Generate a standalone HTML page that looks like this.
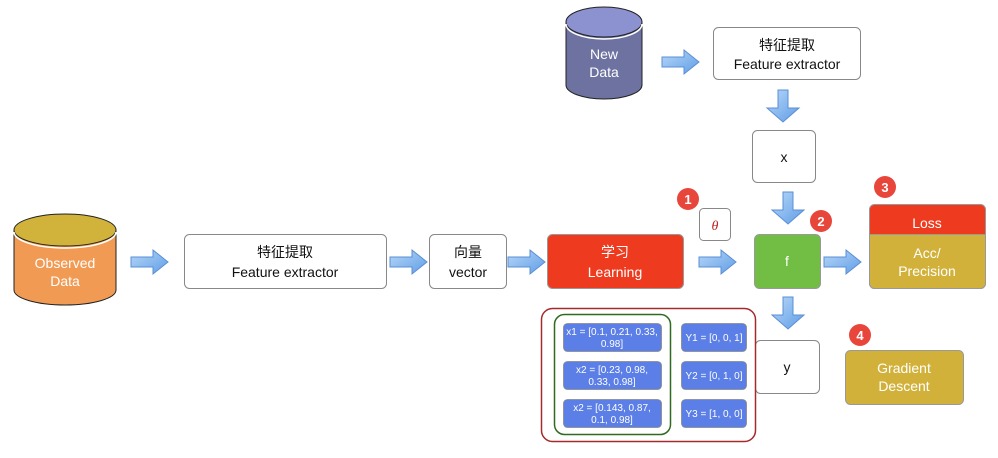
<!DOCTYPE html>
<html><head><meta charset="utf-8"><style>
body{margin:0;background:#fff;}
svg{display:block;font-family:"Liberation Sans","Noto Sans CJK SC",sans-serif;}
</style></head><body>
<svg width="998" height="458" viewBox="0 0 998 458" xmlns="http://www.w3.org/2000/svg">
<defs>
<linearGradient id="ah" x1="0" y1="0" x2="1" y2="1"><stop offset="0" stop-color="#b8d8f8"/><stop offset="1" stop-color="#5f9de6"/></linearGradient>
<g id="ar"><path d="M0,-5 H22 V-12 L37,0 L22,12 V5 H0 Z" fill="url(#ah)" stroke="#5a8fd6" stroke-width="1"/></g>
<g id="ad"><path d="M-5,0 V18 H-16 L0,32 L16,18 H5 V0 Z" fill="url(#ah)" stroke="#5a8fd6" stroke-width="1"/></g>
</defs>
<path d="M14,230 V290 A51,15 0 0 0 116,290 V230" fill="#F19A53" stroke="#222" stroke-width="1"/>
<ellipse cx="65" cy="230" rx="51" ry="16" fill="#D1B23A" stroke="#222" stroke-width="1"/>
<path d="M14,232 A51,16 0 0 0 116,232" fill="none" stroke="#fff" stroke-width="1.5"/>
<text x="65" y="268" font-size="14" fill="#fff" text-anchor="middle">Observed</text>
<text x="65" y="286" font-size="14" fill="#fff" text-anchor="middle">Data</text>
<path d="M566,22 V85 A38,14 0 0 0 642,85 V22" fill="#6E72A0" stroke="#222" stroke-width="1"/>
<ellipse cx="604" cy="22" rx="38" ry="15" fill="#8B92CF" stroke="#222" stroke-width="1"/>
<path d="M566,24 A38,15 0 0 0 642,24" fill="none" stroke="#fff" stroke-width="1.5"/>
<text x="604" y="59" font-size="14" fill="#fff" text-anchor="middle">New</text>
<text x="604" y="77" font-size="14" fill="#fff" text-anchor="middle">Data</text>
<use href="#ar" x="131" y="262"/>
<use href="#ar" x="390" y="262"/>
<use href="#ar" x="508" y="262"/>
<use href="#ar" x="699" y="262"/>
<use href="#ar" x="824" y="262"/>
<use href="#ar" x="662" y="62"/>
<use href="#ad" x="783" y="90"/>
<use href="#ad" x="788" y="192"/>
<use href="#ad" x="788" y="297"/>
<g fill="#fff" stroke="#888" stroke-width="1">
<rect x="184.5" y="234.5" width="202" height="54" rx="5"/>
<rect x="429.5" y="234.5" width="77" height="54" rx="5"/>
<rect x="713.5" y="27.5" width="147" height="52" rx="5"/>
<rect x="752.5" y="130.5" width="63" height="52" rx="5"/>
<rect x="755.5" y="340.5" width="64" height="53" rx="5"/>
<rect x="699.5" y="208.5" width="31" height="32" rx="4"/>
</g>
<g font-size="14" fill="#111" text-anchor="middle">
<text x="285" y="257">特征提取</text><text x="285" y="277">Feature extractor</text>
<text x="468" y="257">向量</text><text x="468" y="277">vector</text>
<text x="787" y="50">特征提取</text><text x="787" y="69">Feature extractor</text>
<text x="784" y="162">x</text>
<text x="787" y="372">y</text>
</g>
<text x="715" y="230" font-size="14" fill="#B22" font-style="italic" text-anchor="middle" font-family="Liberation Serif,serif">θ</text>
<rect x="547.5" y="234.5" width="136" height="54" rx="5" fill="#EE3A1E" stroke="#999"/>
<text x="615" y="257" font-size="14" fill="#fff" text-anchor="middle">学习</text>
<text x="615" y="277" font-size="14" fill="#fff" text-anchor="middle">Learning</text>
<rect x="754.5" y="234.5" width="66" height="54" rx="5" fill="#72BD43" stroke="#999"/>
<text x="787" y="266" font-size="14" fill="#fff" text-anchor="middle">f</text>
<rect x="869.5" y="204.5" width="116" height="84" rx="5" fill="#EE3A1E" stroke="#999"/>
<path d="M869.5,234.5 H985.5 V283.5 A5,5 0 0 1 980.5,288.5 H874.5 A5,5 0 0 1 869.5,283.5 Z" fill="#D2B13A" stroke="#999"/>
<text x="927" y="228" font-size="14" fill="#fff" text-anchor="middle">Loss</text>
<text x="927" y="258" font-size="14" fill="#fff" text-anchor="middle">Acc/</text>
<text x="927" y="276" font-size="14" fill="#fff" text-anchor="middle">Precision</text>
<rect x="845.5" y="350.5" width="118" height="54" rx="5" fill="#D2B13A" stroke="#999"/>
<text x="904" y="373" font-size="14" fill="#fff" text-anchor="middle">Gradient</text>
<text x="904" y="391" font-size="14" fill="#fff" text-anchor="middle">Descent</text>
<g fill="#E8463A"><circle cx="688" cy="199" r="11"/><circle cx="821" cy="221" r="11"/><circle cx="885" cy="187" r="11"/><circle cx="860" cy="335" r="11"/></g>
<g font-size="13" font-weight="bold" fill="#fff" text-anchor="middle">
<text x="688" y="204">1</text><text x="821" y="226">2</text><text x="885" y="192">3</text><text x="860" y="340">4</text></g>
<rect x="541.5" y="308.5" width="214" height="133" rx="11" fill="#fff" stroke="#A52A2A" stroke-width="1.5"/>
<rect x="554.5" y="314.5" width="116" height="120" rx="10" fill="none" stroke="#2E6B1E" stroke-width="1.5"/>
<g fill="#5B7FE6" stroke="#888" stroke-width="0.8">
<rect x="563.5" y="323.5" width="98" height="28" rx="4"/>
<rect x="563.5" y="361.5" width="98" height="28" rx="4"/>
<rect x="563.5" y="399.5" width="98" height="28" rx="4"/>
<rect x="681.5" y="323.5" width="65" height="28" rx="4"/>
<rect x="681.5" y="361.5" width="65" height="28" rx="4"/>
<rect x="681.5" y="399.5" width="65" height="28" rx="4"/>
</g>
<g font-size="10" fill="#fff" text-anchor="middle">
<text x="612" y="335">x1 = [0.1, 0.21, 0.33,</text><text x="612" y="347">0.98]</text>
<text x="612" y="373">x2 = [0.23, 0.98,</text><text x="612" y="385">0.33, 0.98]</text>
<text x="612" y="411">x2 = [0.143, 0.87,</text><text x="612" y="423">0.1,   0.98]</text>
<text x="714" y="341">Y1 = [0, 0, 1]</text>
<text x="714" y="379">Y2 = [0, 1, 0]</text>
<text x="714" y="417">Y3 = [1, 0, 0]</text>
</g>
</svg>
</body></html>
